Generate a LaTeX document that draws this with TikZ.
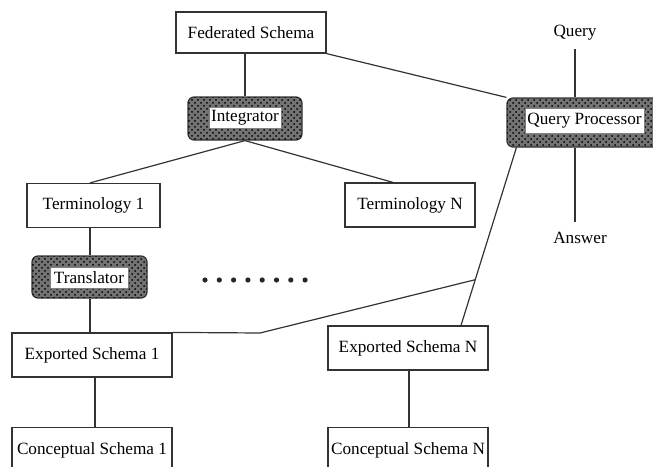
\documentclass[tikz,border=0pt]{standalone}
\usepackage{fontspec}
\setmainfont{Liberation Serif}
\usetikzlibrary{calc,patterns}
\begin{document}
\begin{tikzpicture}[x=0.5pt,y=-0.5pt,
  every node/.style={font=\fontsize{8.6}{10}\selectfont, inner sep=0pt},
  conn/.style={draw=black!80, line width=0.6pt},
  sbox/.style={draw=black!80, line width=0.6pt, fill=white},
  shaded/.style={draw=black!80, line width=0.6pt, fill=black!55, rounded corners=3pt,
    postaction={pattern=crosshatch dots, pattern color=black}},
  inner/.style={draw=black!50, line width=0.3pt, fill=white},
  plain/.style={}]
\useasboundingbox (0,0) rectangle (653,466);
\clip (0,0) rectangle (653,466);

% boxes
\node[sbox, minimum width=75pt, minimum height=20.5pt] (fed) at (251,32.5) {Federated Schema};
\node[shaded, minimum width=57pt, minimum height=21.5pt] (integ) at (245,118.5) {};
\node[inner, minimum width=36pt, minimum height=10.5pt] (integin) at (245,118) {Integrator};
\node[shaded, minimum width=77.5pt, minimum height=24.5pt] (qp) at (584.5,122.5) {};
\node[inner, minimum width=59.5pt, minimum height=12.5pt] (qpin) at (584.5,120.5) {Query Processor};
\node[plain] (query) at (575,33) {Query};
\node[plain] (answer) at (580,238) {Answer};
\node[sbox, minimum width=66.5pt, minimum height=22pt] (t1) at (93.5,205.5) {Terminology 1};
\node[sbox, minimum width=65pt, minimum height=22pt] (tn) at (410,205) {Terminology N};
\node[shaded, minimum width=57.5pt, minimum height=21pt] (trans) at (89.5,277) {};
\node[inner, minimum width=39pt, minimum height=10.5pt] (transin) at (89,277.5) {Translator};
\node[sbox, minimum width=80pt, minimum height=22pt] (es1) at (92,355) {Exported Schema 1};
\node[sbox, minimum width=80pt, minimum height=22pt] (esn) at (408,348) {Exported Schema N};
\node[sbox, minimum width=80pt, minimum height=23pt, anchor=north] (cs1) at (92,427) {Conceptual Schema 1};
\node[sbox, minimum width=80pt, minimum height=23pt, anchor=north] (csn) at (408,427) {Conceptual Schema N};

% dots
\foreach \i in {0,...,7} {
  \fill[black!85] (205+\i*14.3,280) circle (1.3pt);
}

% connectors
\draw[conn] (integ.north) -- (integ.north |- fed.south);
\draw[conn] (fed.south east) -- (qp.north west);
\draw[conn] (integ.south) -- ([xshift=-1.75pt]t1.north);
\draw[conn] (integ.south) -- ([xshift=-8.5pt]tn.north);
\draw[conn] ([xshift=-1.75pt]t1.south) -- ([xshift=-1.75pt]t1.south |- trans.north);
\draw[conn] ([xshift=0.25pt]trans.south) -- ([xshift=0.25pt]trans.south |- es1.north);
\draw[conn] (query.south) ++(0,8) -- (query.south |- qp.north);
\draw[conn] (query.south |- qp.south) -- (query.south |- 0,222);
\coordinate (qpb) at ([xshift=5pt]qp.south west);
\coordinate (esnt) at ([xshift=26.5pt]esn.north);
\draw[conn] (qpb) -- (esnt);
\coordinate (junc) at ($(qpb)!0.743!(esnt)$);
\coordinate (bend) at (260,333);
\draw[conn] (es1.north east) -- (bend) -- (junc);
\draw[conn] ([xshift=1.5pt]es1.south) -- ([xshift=1.5pt]es1.south |- cs1.north);
\draw[conn] ([xshift=0.5pt]esn.south) -- ([xshift=0.5pt]esn.south |- csn.north);
\end{tikzpicture}
\end{document}
